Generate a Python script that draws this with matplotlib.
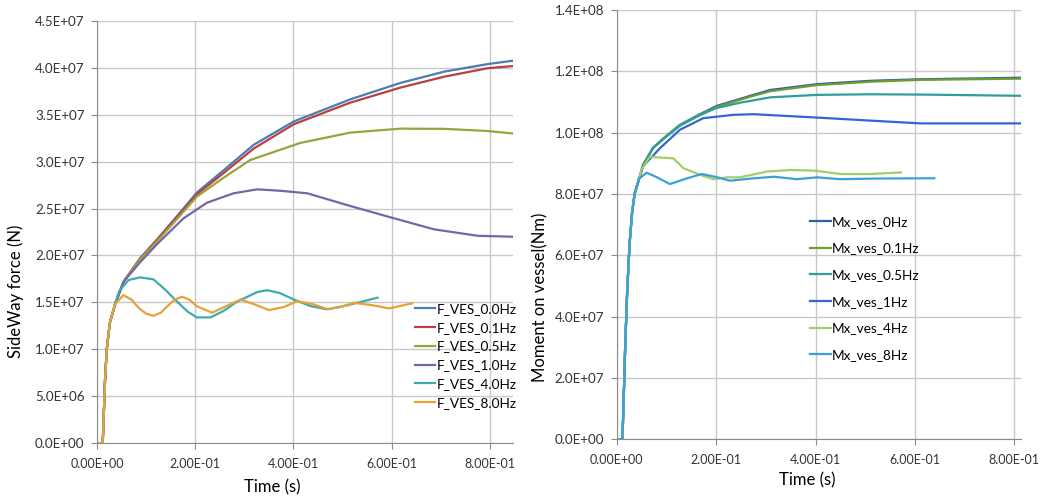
import numpy as np
import matplotlib
matplotlib.use('Agg')
import matplotlib.pyplot as plt
from matplotlib import ticker as mticker

plt.rcParams['font.family'] = ['Lato', 'DejaVu Sans']

# ---- left chart: SideWay force (N) ----
f_labels = ['F_VES_0.0Hz', 'F_VES_0.1Hz', 'F_VES_0.5Hz', 'F_VES_1.0Hz', 'F_VES_4.0Hz', 'F_VES_8.0Hz']
f_colors = ['#4A7DB5', '#B8403E', '#9AA33C', '#7566A6', '#3DAAB0', '#E3A23A']

t_start = [0.0, 0.0116, 0.0163, 0.0198, 0.026, 0.0367]
v_start = [0.0, 0.0, 6.7e6, 1.0e7, 1.28e7, 1.48e7]

f00_t = t_start + [0.054, 0.088, 0.122, 0.163, 0.203, 0.258, 0.319, 0.401, 0.516, 0.618, 0.707, 0.795, 0.848]
f00_v = v_start + [1.72e7, 1.97e7, 2.17e7, 2.42e7, 2.67e7, 2.91e7, 3.18e7, 3.43e7, 3.665e7, 3.84e7, 3.96e7, 4.04e7, 4.077e7]
f01_t = t_start + [0.054, 0.088, 0.122, 0.163, 0.203, 0.258, 0.319, 0.401, 0.516, 0.618, 0.707, 0.795, 0.848]
f01_v = v_start + [1.72e7, 1.97e7, 2.165e7, 2.41e7, 2.65e7, 2.88e7, 3.14e7, 3.40e7, 3.63e7, 3.79e7, 3.906e7, 3.996e7, 4.02e7]
f05_t = t_start + [0.054, 0.088, 0.122, 0.163, 0.203, 0.258, 0.312, 0.414, 0.516, 0.618, 0.707, 0.795, 0.848]
f05_v = v_start + [1.72e7, 1.96e7, 2.15e7, 2.39e7, 2.627e7, 2.83e7, 3.018e7, 3.2e7, 3.31e7, 3.352e7, 3.35e7, 3.327e7, 3.30e7]
f10_t = t_start + [0.054, 0.088, 0.122, 0.176, 0.224, 0.278, 0.326, 0.373, 0.428, 0.516, 0.605, 0.686, 0.775, 0.848]
f10_v = v_start + [1.72e7, 1.93e7, 2.12e7, 2.396e7, 2.563e7, 2.663e7, 2.705e7, 2.69e7, 2.663e7, 2.527e7, 2.396e7, 2.279e7, 2.21e7, 2.2e7]
f40_t = t_start + [0.045, 0.064, 0.088, 0.115, 0.14, 0.163, 0.185, 0.203, 0.231, 0.258, 0.285, 0.326, 0.346, 0.372, 0.401, 0.435, 0.469, 0.51, 0.571]
f40_v = v_start + [1.62e7, 1.738e7, 1.767e7, 1.745e7, 1.63e7, 1.507e7, 1.40e7, 1.34e7, 1.34e7, 1.41e7, 1.507e7, 1.61e7, 1.63e7, 1.60e7, 1.53e7, 1.46e7, 1.426e7, 1.47e7, 1.55e7]
f80_t = t_start + [0.0537, 0.07, 0.0857, 0.1, 0.115, 0.13, 0.1435, 0.158, 0.173, 0.188, 0.203, 0.234, 0.263, 0.292,
                   0.32, 0.35, 0.38, 0.408, 0.44, 0.469, 0.496, 0.523, 0.56, 0.595, 0.642]
f80_v = v_start + [1.578e7, 1.53e7, 1.437e7, 1.38e7, 1.357e7, 1.39e7, 1.46e7, 1.53e7, 1.56e7, 1.53e7, 1.46e7, 1.39e7, 1.46e7, 1.53e7,
                   1.48e7, 1.418e7, 1.45e7, 1.514e7, 1.48e7, 1.43e7, 1.45e7, 1.496e7, 1.47e7, 1.436e7, 1.49e7]

# ---- right chart: Moment on vessel (Nm) ----
m_labels = ['Mx_ves_0Hz', 'Mx_ves_0.1Hz', 'Mx_ves_0.5Hz', 'Mx_ves_1Hz', 'Mx_ves_4Hz', 'Mx_ves_8Hz']
m_colors = ['#2E5FA0', '#6E9E32', '#2E9E9A', '#3566D0', '#9DD06A', '#3BA0D8']

m_start_t = [0.0, 0.0115, 0.0135, 0.017, 0.021, 0.026, 0.031, 0.036]
m_start_v = [0.0, 0.0, 1.0e7, 3.0e7, 4.8e7, 6.4e7, 7.4e7, 8.0e7]

m00_t = m_start_t + [0.053, 0.073, 0.097, 0.127, 0.165, 0.201, 0.275, 0.309, 0.403, 0.511, 0.612, 0.814]
m00_v = m_start_v + [8.94e7, 9.5e7, 9.85e7, 1.025e8, 1.058e8, 1.087e8, 1.123e8, 1.139e8, 1.158e8, 1.169e8, 1.174e8, 1.179e8]
m01_t = m_start_t + [0.053, 0.073, 0.097, 0.127, 0.165, 0.201, 0.275, 0.309, 0.403, 0.511, 0.612, 0.814]
m01_v = m_start_v + [8.94e7, 9.5e7, 9.85e7, 1.024e8, 1.056e8, 1.084e8, 1.12e8, 1.135e8, 1.155e8, 1.166e8, 1.172e8, 1.176e8]
m05_t = m_start_t + [0.053, 0.073, 0.097, 0.127, 0.165, 0.2, 0.25, 0.309, 0.403, 0.511, 0.612, 0.814]
m05_v = m_start_v + [8.94e7, 9.5e7, 9.83e7, 1.022e8, 1.055e8, 1.08e8, 1.098e8, 1.115e8, 1.123e8, 1.125e8, 1.124e8, 1.12e8]
m1_t = m_start_t + [0.053, 0.087, 0.127, 0.174, 0.235, 0.275, 0.403, 0.511, 0.612, 0.814]
m1_v = m_start_v + [8.9e7, 9.49e7, 1.009e8, 1.047e8, 1.058e8, 1.06e8, 1.049e8, 1.039e8, 1.03e8, 1.03e8]
m4_t = m_start_t + [0.05, 0.067, 0.114, 0.134, 0.168, 0.195, 0.222, 0.248, 0.302, 0.35, 0.397, 0.45, 0.511, 0.572]
m4_v = m_start_v + [8.8e7, 9.21e7, 9.16e7, 8.84e7, 8.62e7, 8.48e7, 8.54e7, 8.54e7, 8.73e7, 8.78e7, 8.76e7, 8.65e7, 8.65e7, 8.70e7]
m8_t = m_start_t + [0.045, 0.06, 0.08, 0.107, 0.14, 0.171, 0.2, 0.228, 0.27, 0.316, 0.363, 0.403, 0.45, 0.518, 0.639]
m8_v = m_start_v + [8.5e7, 8.69e7, 8.55e7, 8.32e7, 8.5e7, 8.65e7, 8.55e7, 8.43e7, 8.5e7, 8.56e7, 8.48e7, 8.54e7, 8.48e7, 8.50e7, 8.51e7]

f_series = [(f00_t, f00_v), (f01_t, f01_v), (f05_t, f05_v), (f10_t, f10_v), (f40_t, f40_v), (f80_t, f80_v)]
m_series = [(m00_t, m00_v), (m01_t, m01_v), (m05_t, m05_v), (m1_t, m1_v), (m4_t, m4_v), (m8_t, m8_v)]


def style_axes(ax):
    ax.grid(True, color='#c8c8c8', linewidth=1)
    ax.set_axisbelow(True)
    ax.spines['top'].set_visible(False)
    ax.spines['right'].set_visible(False)
    ax.spines['left'].set_color('#8c8c8c')
    ax.spines['bottom'].set_color('#8c8c8c')
    ax.tick_params(axis='both', direction='out', length=4, color='#8c8c8c', labelcolor='#333333')
    ax.tick_params(axis='x', pad=7, labelsize=9)
    ax.tick_params(axis='y', pad=5, labelsize=9.6)
    ax.set_xticks([0.0, 0.2, 0.4, 0.6, 0.8])
    ax.xaxis.set_major_formatter(mticker.FormatStrFormatter('%.2E'))
    ax.yaxis.set_major_formatter(mticker.FormatStrFormatter('%.1E'))


fig = plt.figure(figsize=(10.4, 4.99), dpi=100)

ax1 = fig.add_axes([0.0933, 0.112, 0.400, 0.846])
for (t, v), lab, col in zip(f_series, f_labels, f_colors):
    ax1.plot(t, v, color=col, lw=1.6, label=lab)
style_axes(ax1)
ax1.set_xlim(0, 0.847)
ax1.set_ylim(0, 4.5e7)
ax1.set_yticks(np.arange(0, 4.51e7, 5e6))
ax1.set_xlabel('Time (s)', fontsize=12)
ax1.xaxis.set_label_coords(0.42, -0.085)
ax1.set_ylabel('SideWay force (N)', fontsize=12)
ax1.yaxis.set_label_coords(-0.175, 0.36)
ax1.legend(loc='upper left', bbox_to_anchor=(0.399, 0.393), bbox_transform=fig.transFigure,
           frameon=False, fontsize=9.8, handlelength=1.5, handletextpad=0.1,
           labelspacing=0.5, borderpad=0, borderaxespad=0)

ax2 = fig.add_axes([0.593, 0.120, 0.389, 0.860])
for (t, v), lab, col in zip(m_series, m_labels, m_colors):
    ax2.plot(t, v, color=col, lw=1.6, label=lab)
style_axes(ax2)
ax2.set_xlim(0, 0.814)
ax2.set_ylim(0, 1.4e8)
ax2.set_yticks(np.arange(0, 1.41e8, 2e7))
ax2.set_xlabel('Time (s)', fontsize=12)
ax2.xaxis.set_label_coords(0.47, -0.078)
ax2.set_ylabel('Moment on vessel(Nm)', fontsize=12)
ax2.yaxis.set_label_coords(-0.17, 0.33)
ax2.legend(loc='upper left', bbox_to_anchor=(0.779, 0.568), bbox_transform=fig.transFigure,
           frameon=False, fontsize=9.8, handlelength=1.5, handletextpad=0.1,
           labelspacing=1.08, borderpad=0, borderaxespad=0)

fig.savefig('out.png', dpi=100)
